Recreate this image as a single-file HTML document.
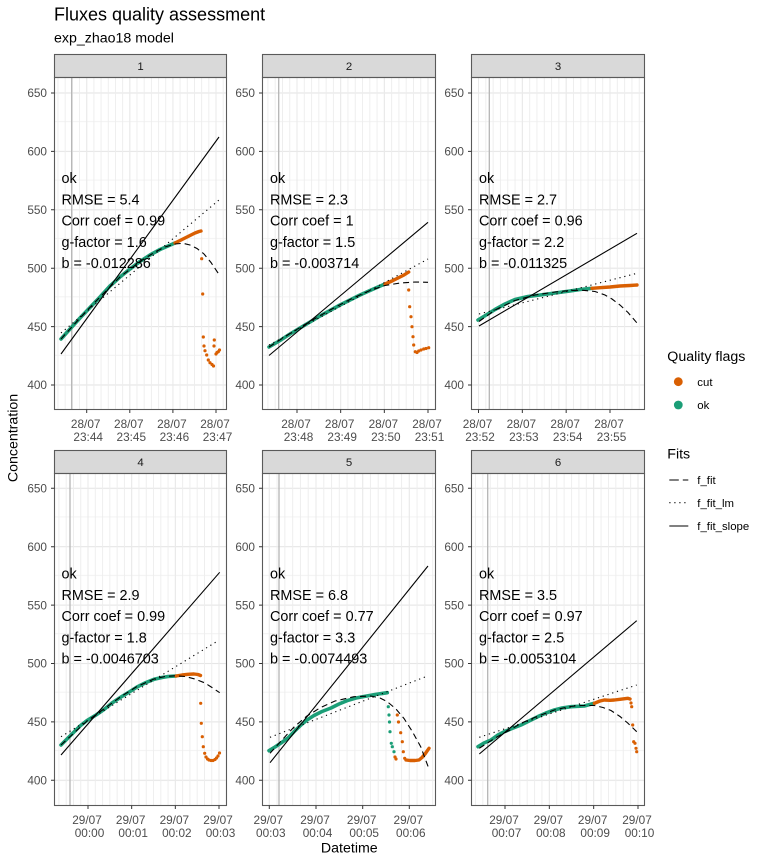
<!DOCTYPE html>
<html><head><meta charset="utf-8"><style>
html,body{margin:0;padding:0;background:#fff;}
svg{display:block;font-family:"Liberation Sans",Arial,sans-serif;}
.yt{font-size:11.8px;fill:#4d4d4d;text-anchor:end;}
.xt{font-size:11.8px;fill:#4d4d4d;text-anchor:middle;}
.st{font-size:11.4px;fill:#1a1a1a;text-anchor:middle;}
.an{font-size:14.4px;fill:#000;}
.g{fill:none;stroke:#1B9E77;stroke-width:3.6;stroke-linecap:round;stroke-linejoin:round;}
.o{fill:none;stroke:#D95F02;stroke-width:3.4;stroke-linecap:round;stroke-linejoin:round;}
.od{fill:#D95F02;}
.gd{fill:#1B9E77;}
.sl{fill:none;stroke:#000;stroke-width:1.1;}
.dt{fill:none;stroke:#000;stroke-width:1.1;stroke-dasharray:1.2,3.8;}
.ds{fill:none;stroke:#000;stroke-width:1.1;stroke-dasharray:6,4;}
.bd{fill:none;stroke:#5a5a5a;stroke-width:1.1;}
.tk{stroke:#333;stroke-width:1;}
.mj{stroke:#e9e9e9;stroke-width:1;}
.vl{stroke:#b5b5b5;stroke-width:1.3;}
</style></head><body>
<svg width="768" height="864" viewBox="0 0 768 864" xmlns="http://www.w3.org/2000/svg">
<defs>
<pattern id="h1" patternUnits="userSpaceOnUse" x="0" y="92.45" width="10" height="58.4"><rect x="0" y="0" width="10" height="1.1" fill="#e5e5e5"/><rect x="0" y="28.8" width="10" height="0.8" fill="#efefef"/></pattern>
<pattern id="h2" patternUnits="userSpaceOnUse" x="0" y="487.75" width="10" height="58.4"><rect x="0" y="0" width="10" height="1.1" fill="#e5e5e5"/><rect x="0" y="28.8" width="10" height="0.8" fill="#efefef"/></pattern>
<pattern id="v1" patternUnits="userSpaceOnUse" x="86.25" y="0" width="7.1833" height="864"><rect x="0" y="0" width="0.9" height="864" fill="#ededed"/></pattern>
<pattern id="v2" patternUnits="userSpaceOnUse" x="296.55" y="0" width="7.2778" height="864"><rect x="0" y="0" width="0.9" height="864" fill="#ededed"/></pattern>
<pattern id="v3" patternUnits="userSpaceOnUse" x="478.05" y="0" width="7.3056" height="864"><rect x="0" y="0" width="0.9" height="864" fill="#ededed"/></pattern>
<pattern id="v4" patternUnits="userSpaceOnUse" x="87.55" y="0" width="7.2778" height="864"><rect x="0" y="0" width="0.9" height="864" fill="#ededed"/></pattern>
<pattern id="v5" patternUnits="userSpaceOnUse" x="268.85" y="0" width="7.7778" height="864"><rect x="0" y="0" width="0.9" height="864" fill="#ededed"/></pattern>
<pattern id="v6" patternUnits="userSpaceOnUse" x="504.55" y="0" width="7.3889" height="864"><rect x="0" y="0" width="0.9" height="864" fill="#ededed"/></pattern>
<clipPath id="c1"><rect x="54.5" y="77.5" width="172" height="332"/></clipPath>
<clipPath id="c2"><rect x="262.5" y="77.5" width="173" height="332"/></clipPath>
<clipPath id="c3"><rect x="471.5" y="77.5" width="173" height="332"/></clipPath>
<clipPath id="c4"><rect x="54.5" y="473.5" width="172" height="332"/></clipPath>
<clipPath id="c5"><rect x="262.5" y="473.5" width="173" height="332"/></clipPath>
<clipPath id="c6"><rect x="471.5" y="473.5" width="173" height="332"/></clipPath>
</defs>
<rect width="768" height="864" fill="#fff"/>

<text x="54" y="20.6" font-size="18" fill="#000">Fluxes quality assessment</text>
<text x="54" y="42.5" font-size="14.2" fill="#000">exp_zhao18 model</text>

<g>
<rect x="54.5" y="77.5" width="172" height="332" fill="url(#h1)"/>
<rect x="262.5" y="77.5" width="173" height="332" fill="url(#h1)"/>
<rect x="471.5" y="77.5" width="173" height="332" fill="url(#h1)"/>
<rect x="54.5" y="473.5" width="172" height="332" fill="url(#h2)"/>
<rect x="262.5" y="473.5" width="173" height="332" fill="url(#h2)"/>
<rect x="471.5" y="473.5" width="173" height="332" fill="url(#h2)"/>
<rect x="54.5" y="77.5" width="172" height="332" fill="url(#v1)"/>
<rect x="262.5" y="77.5" width="173" height="332" fill="url(#v2)"/>
<rect x="471.5" y="77.5" width="173" height="332" fill="url(#v3)"/>
<rect x="54.5" y="473.5" width="172" height="332" fill="url(#v4)"/>
<rect x="262.5" y="473.5" width="173" height="332" fill="url(#v5)"/>
<rect x="471.5" y="473.5" width="173" height="332" fill="url(#v6)"/>
</g>
<g class="mj">
<line x1="86.7" y1="77.5" x2="86.7" y2="409.5"/><line x1="129.8" y1="77.5" x2="129.8" y2="409.5"/><line x1="172.9" y1="77.5" x2="172.9" y2="409.5"/><line x1="216" y1="77.5" x2="216" y2="409.5"/>
<line x1="297" y1="77.5" x2="297" y2="409.5"/><line x1="340.67" y1="77.5" x2="340.67" y2="409.5"/><line x1="384.33" y1="77.5" x2="384.33" y2="409.5"/><line x1="428" y1="77.5" x2="428" y2="409.5"/>
<line x1="478.5" y1="77.5" x2="478.5" y2="409.5"/><line x1="522.33" y1="77.5" x2="522.33" y2="409.5"/><line x1="566.17" y1="77.5" x2="566.17" y2="409.5"/><line x1="610" y1="77.5" x2="610" y2="409.5"/>
<line x1="88" y1="473.5" x2="88" y2="805.5"/><line x1="131.67" y1="473.5" x2="131.67" y2="805.5"/><line x1="175.33" y1="473.5" x2="175.33" y2="805.5"/><line x1="219" y1="473.5" x2="219" y2="805.5"/>
<line x1="269.3" y1="473.5" x2="269.3" y2="805.5"/><line x1="316" y1="473.5" x2="316" y2="805.5"/><line x1="362.7" y1="473.5" x2="362.7" y2="805.5"/><line x1="409.3" y1="473.5" x2="409.3" y2="805.5"/>
<line x1="505" y1="473.5" x2="505" y2="805.5"/><line x1="549.33" y1="473.5" x2="549.33" y2="805.5"/><line x1="593.67" y1="473.5" x2="593.67" y2="805.5"/><line x1="638" y1="473.5" x2="638" y2="805.5"/>
</g>
<g class="vl">
<line x1="71.7" y1="77.5" x2="71.7" y2="409.5"/>
<line x1="278.7" y1="77.5" x2="278.7" y2="409.5"/>
<line x1="489.3" y1="77.5" x2="489.3" y2="409.5"/>
<line x1="70" y1="473.5" x2="70" y2="805.5"/>
<line x1="279" y1="473.5" x2="279" y2="805.5"/>
<line x1="487.7" y1="473.5" x2="487.7" y2="805.5"/>
</g>

<g clip-path="url(#c1)">
<polyline class="g" points="61,339 70,329 80,318 90,307.5 100,297 110,286 120,277 130,269 140,261.5 150,255 160,249.5 168,246 175,243"/>
<polyline class="o" points="175,243 180,240.5 185,238 190,235.5 195,233 199,231.5 201,231"/>
<g class="od">
<circle cx="201.7" cy="258.7" r="1.6"/><circle cx="202.7" cy="294" r="1.6"/><circle cx="203.3" cy="337" r="1.6"/><circle cx="204" cy="346" r="1.6"/><circle cx="205" cy="350.7" r="1.6"/><circle cx="206.7" cy="355" r="1.6"/><circle cx="208.3" cy="360" r="1.6"/><circle cx="210" cy="362.7" r="1.6"/><circle cx="212" cy="364.5" r="1.6"/><circle cx="213.5" cy="366" r="1.6"/><circle cx="214.3" cy="340" r="1.6"/><circle cx="214" cy="346" r="1.6"/><circle cx="216" cy="354" r="1.6"/><circle cx="218.3" cy="351.7" r="1.6"/><circle cx="219.5" cy="350" r="1.6"/><circle cx="217" cy="352.5" r="1.6"/>
</g>
<line class="sl" x1="61" y1="354" x2="219" y2="137"/>
<line class="dt" x1="61" y1="333" x2="219" y2="200"/>
<polyline class="ds" points="61,339 80,318 100,297 120,277 140,261.5 155,252 165,247 175,244 183,243.3 190,245 197,248.5 204,254 211,262.5 219,274.5"/>
</g>

<g clip-path="url(#c2)">
<polyline class="g" points="269,347 280,340.5 290,334 300,328 310,322 320,316 330,310.5 340,305 350,300 360,295 370,290.5 378,287 385,284"/>
<polyline class="o" points="385,284 392,281 398,278 404,275 408.7,272"/>
<g class="od">
<circle cx="408.7" cy="290" r="1.6"/><circle cx="409.7" cy="306.7" r="1.6"/><circle cx="411" cy="316.7" r="1.6"/><circle cx="412" cy="326.7" r="1.6"/><circle cx="413" cy="336.7" r="1.6"/><circle cx="413.7" cy="345" r="1.6"/><circle cx="415.3" cy="351.7" r="1.6"/><circle cx="417" cy="352.5" r="1.6"/><circle cx="418.7" cy="351" r="1.6"/><circle cx="421" cy="350" r="1.6"/><circle cx="423.7" cy="349" r="1.6"/><circle cx="426" cy="348.5" r="1.6"/><circle cx="428.7" cy="347.7" r="1.6"/>
</g>
<line class="sl" x1="269" y1="355.5" x2="428" y2="222.3"/>
<line class="dt" x1="269" y1="345" x2="428" y2="259"/>
<polyline class="ds" points="269,347 290,333.5 310,321.5 330,310 350,299.5 370,290.5 385,285.5 400,283 415,282 428,282.3"/>
</g>

<g clip-path="url(#c3)">
<polyline class="g" points="478,320 487,314.5 495,309.5 505,304 515,299.5 528,296.5 540,295 555,293 570,291 580,289.5 592,288.3"/>
<polyline class="o" points="592,288.3 600,287.7 610,287 620,286 630,285.5 637,285"/>
<line class="sl" x1="479" y1="326" x2="637" y2="233.3"/>
<line class="dt" x1="479" y1="314" x2="637" y2="273.3"/>
<polyline class="ds" points="479,321.5 495,310 515,300.5 535,295 555,292 570,290.5 583,290.3 595,291.5 605,295 612,299 620,305 628,312.5 637,323"/>
</g>

<g clip-path="url(#c4)">
<polyline class="g" points="61,745 70,736 80,726 87,720.5 96,715 104,709.5 112,703 121,697 130,691.5 137,687 146,682.5 154,679.3 162,677.5 168,676.5 176,676"/>
<polyline class="o" points="176,676 182,675 188,674.3 194,674 198,674.5 200.5,675.5"/>
<g class="od">
<circle cx="200.7" cy="703.3" r="1.6"/><circle cx="201.3" cy="723.3" r="1.6"/><circle cx="202.3" cy="736.7" r="1.6"/><circle cx="203.3" cy="746.7" r="1.6"/><circle cx="204.7" cy="753.3" r="1.6"/><circle cx="206" cy="757" r="1.6"/><circle cx="207.5" cy="759" r="1.6"/><circle cx="209" cy="760" r="1.6"/><circle cx="211" cy="760.5" r="1.6"/><circle cx="213" cy="760.5" r="1.6"/><circle cx="215" cy="759.5" r="1.6"/><circle cx="216.5" cy="758" r="1.6"/><circle cx="218" cy="756" r="1.6"/><circle cx="219.5" cy="753" r="1.6"/>
</g>
<line class="sl" x1="61" y1="755" x2="219.7" y2="572.3"/>
<line class="dt" x1="61" y1="736.7" x2="218.5" y2="640.5"/>
<polyline class="ds" points="61,745 87,721 104,709 121,696.5 137,686.5 154,679 165,676.5 175,675.8 185,676.5 195,679 205,683 212,687.5 219.7,692.7"/>
</g>

<g clip-path="url(#c5)">
<polyline class="g" points="269,750.7 275,747 281,743 288,738 294,731.7 301,725 307,720 314,715.5 322,711.5 331,708 339,704 347,700.7 356,698 364,696.5 375,694.5 387.3,692.7"/>
<g class="gd">
<circle cx="388.3" cy="706.7" r="1.6"/><circle cx="389" cy="715" r="1.6"/><circle cx="389.5" cy="722" r="1.6"/><circle cx="390" cy="731.7" r="1.6"/><circle cx="391.3" cy="743.3" r="1.6"/><circle cx="392.3" cy="746.7" r="1.6"/><circle cx="394" cy="751.7" r="1.6"/>
</g>
<g class="od">
<circle cx="397.3" cy="715" r="1.6"/><circle cx="398.5" cy="722" r="1.6"/><circle cx="400.7" cy="732.7" r="1.6"/><circle cx="402.3" cy="741.7" r="1.6"/><circle cx="403.3" cy="751.7" r="1.6"/><circle cx="404.7" cy="758.3" r="1.6"/><circle cx="395" cy="757" r="1.6"/><circle cx="396" cy="759" r="1.6"/>
</g>
<polyline class="o" points="406,760 410,760.5 415,760.5 419,760 422,757.5 425,754 429,748.3"/>
<line class="sl" x1="270" y1="762.7" x2="428" y2="566"/>
<line class="dt" x1="270" y1="737.3" x2="425.7" y2="676.7"/>
<polyline class="ds" points="270,753.3 282,740 294,727 307,716 320.7,707.5 335,701 354,696.7 370.7,696 380,698 387.3,701.7 396,709 404,718.5 412,731 420.7,746.7 429,769"/>
</g>

<g clip-path="url(#c6)">
<polyline class="g" points="478,746.7 484,743 491,740 498,735 504.3,731.7 512,728.5 521,725 530,720.5 537.7,716.7 546,713 554.3,710 562,708 571,706.7 584.3,706 594.3,703.3"/>
<polyline class="o" points="594.3,703.3 600,701 604.3,700 610,700.3 614.3,700 620,699.3 627.7,698.3 630,699"/>
<g class="od">
<circle cx="631" cy="703" r="1.6"/><circle cx="631.7" cy="706.7" r="1.6"/><circle cx="632.7" cy="725" r="1.6"/><circle cx="633.7" cy="741.7" r="1.6"/><circle cx="635" cy="743.3" r="1.6"/><circle cx="636" cy="748.3" r="1.6"/><circle cx="636.7" cy="751.7" r="1.6"/>
</g>
<line class="sl" x1="479.3" y1="754" x2="636.7" y2="620.7"/>
<line class="dt" x1="479.3" y1="737.3" x2="636.7" y2="685"/>
<polyline class="ds" points="479.3,748.3 495,738 510,730 521,723.3 537,716.5 554.3,710 570,706.5 581,705.5 594.3,705.5 603,707.5 611,710.5 620,716.5 627.7,723 636.7,731.7"/>
</g>

<g class="an">
<text x="61.5" y="183">ok</text><text x="61.5" y="204.3">RMSE = 5.4</text><text x="61.5" y="225.6">Corr coef = 0.99</text><text x="61.5" y="246.9">g-factor = 1.6</text><text x="61.5" y="268.2">b = -0.012286</text>
<text x="270" y="183">ok</text><text x="270" y="204.3">RMSE = 2.3</text><text x="270" y="225.6">Corr coef = 1</text><text x="270" y="246.9">g-factor = 1.5</text><text x="270" y="268.2">b = -0.003714</text>
<text x="479" y="183">ok</text><text x="479" y="204.3">RMSE = 2.7</text><text x="479" y="225.6">Corr coef = 0.96</text><text x="479" y="246.9">g-factor = 2.2</text><text x="479" y="268.2">b = -0.011325</text>
<text x="61.5" y="578.5">ok</text><text x="61.5" y="599.8">RMSE = 2.9</text><text x="61.5" y="621.1">Corr coef = 0.99</text><text x="61.5" y="642.4">g-factor = 1.8</text><text x="61.5" y="663.7">b = -0.0046703</text>
<text x="270" y="578.5">ok</text><text x="270" y="599.8">RMSE = 6.8</text><text x="270" y="621.1">Corr coef = 0.77</text><text x="270" y="642.4">g-factor = 3.3</text><text x="270" y="663.7">b = -0.0074493</text>
<text x="479" y="578.5">ok</text><text x="479" y="599.8">RMSE = 3.5</text><text x="479" y="621.1">Corr coef = 0.97</text><text x="479" y="642.4">g-factor = 2.5</text><text x="479" y="663.7">b = -0.0053104</text>
</g>

<g fill="#d9d9d9" stroke="#5a5a5a" stroke-width="1.1">
<rect x="54.5" y="54.5" width="172" height="23"/>
<rect x="262.5" y="54.5" width="173" height="23"/>
<rect x="471.5" y="54.5" width="173" height="23"/>
<rect x="54.5" y="450.5" width="172" height="23"/>
<rect x="262.5" y="450.5" width="173" height="23"/>
<rect x="471.5" y="450.5" width="173" height="23"/>
</g>
<g class="st">
<text x="140.5" y="70">1</text><text x="349" y="70">2</text><text x="558" y="70">3</text>
<text x="140.5" y="466">4</text><text x="349" y="466">5</text><text x="558" y="466">6</text>
</g>
<g class="bd">
<rect x="54.5" y="77.5" width="172" height="332"/>
<rect x="262.5" y="77.5" width="173" height="332"/>
<rect x="471.5" y="77.5" width="173" height="332"/>
<rect x="54.5" y="473.5" width="172" height="332"/>
<rect x="262.5" y="473.5" width="173" height="332"/>
<rect x="471.5" y="473.5" width="173" height="332"/>
</g>

<g class="tk">
<path d="M51,93H54.5M51,151.4H54.5M51,209.8H54.5M51,268.2H54.5M51,326.6H54.5M51,385H54.5 M259,93H262.5M259,151.4H262.5M259,209.8H262.5M259,268.2H262.5M259,326.6H262.5M259,385H262.5 M468,93H471.5M468,151.4H471.5M468,209.8H471.5M468,268.2H471.5M468,326.6H471.5M468,385H471.5"/>
<path d="M51,488.3H54.5M51,546.7H54.5M51,605.1H54.5M51,663.5H54.5M51,721.9H54.5M51,780.3H54.5 M259,488.3H262.5M259,546.7H262.5M259,605.1H262.5M259,663.5H262.5M259,721.9H262.5M259,780.3H262.5 M468,488.3H471.5M468,546.7H471.5M468,605.1H471.5M468,663.5H471.5M468,721.9H471.5M468,780.3H471.5"/>
<path d="M86.7,409.5V413M129.8,409.5V413M172.9,409.5V413M216,409.5V413 M297,409.5V413M340.67,409.5V413M384.33,409.5V413M428,409.5V413 M478.5,409.5V413M522.33,409.5V413M566.17,409.5V413M610,409.5V413"/>
<path d="M88,805.5V809M131.67,805.5V809M175.33,805.5V809M219,805.5V809 M269.3,805.5V809M316,805.5V809M362.7,805.5V809M409.3,805.5V809 M505,805.5V809M549.33,805.5V809M593.67,805.5V809M638,805.5V809"/>
</g>
<g class="yt">
<text x="47" y="97.2">650</text><text x="47" y="155.6">600</text><text x="47" y="214">550</text><text x="47" y="272.4">500</text><text x="47" y="330.8">450</text><text x="47" y="389.2">400</text>
<text x="255" y="97.2">650</text><text x="255" y="155.6">600</text><text x="255" y="214">550</text><text x="255" y="272.4">500</text><text x="255" y="330.8">450</text><text x="255" y="389.2">400</text>
<text x="464" y="97.2">650</text><text x="464" y="155.6">600</text><text x="464" y="214">550</text><text x="464" y="272.4">500</text><text x="464" y="330.8">450</text><text x="464" y="389.2">400</text>
<text x="47" y="492.5">650</text><text x="47" y="550.9">600</text><text x="47" y="609.3">550</text><text x="47" y="667.7">500</text><text x="47" y="726.1">450</text><text x="47" y="784.5">400</text>
<text x="255" y="492.5">650</text><text x="255" y="550.9">600</text><text x="255" y="609.3">550</text><text x="255" y="667.7">500</text><text x="255" y="726.1">450</text><text x="255" y="784.5">400</text>
<text x="464" y="492.5">650</text><text x="464" y="550.9">600</text><text x="464" y="609.3">550</text><text x="464" y="667.7">500</text><text x="464" y="726.1">450</text><text x="464" y="784.5">400</text>
</g>
<g class="xt">
<text x="85.7" y="428">28/07</text><text x="88.2" y="441">23:44</text>
<text x="128.8" y="428">28/07</text><text x="131.3" y="441">23:45</text>
<text x="171.9" y="428">28/07</text><text x="174.4" y="441">23:46</text>
<text x="215" y="428">28/07</text><text x="217.5" y="441">23:47</text>
<text x="296" y="428">28/07</text><text x="298.5" y="441">23:48</text>
<text x="339.67" y="428">28/07</text><text x="342.17" y="441">23:49</text>
<text x="383.33" y="428">28/07</text><text x="385.83" y="441">23:50</text>
<text x="427" y="428">28/07</text><text x="429.5" y="441">23:51</text>
<text x="477.5" y="428">28/07</text><text x="480" y="441">23:52</text>
<text x="521.33" y="428">28/07</text><text x="523.83" y="441">23:53</text>
<text x="565.17" y="428">28/07</text><text x="567.67" y="441">23:54</text>
<text x="609" y="428">28/07</text><text x="611.5" y="441">23:55</text>
<text x="87" y="824">29/07</text><text x="89.5" y="837">00:00</text>
<text x="130.67" y="824">29/07</text><text x="133.17" y="837">00:01</text>
<text x="174.33" y="824">29/07</text><text x="176.83" y="837">00:02</text>
<text x="218" y="824">29/07</text><text x="220.5" y="837">00:03</text>
<text x="268.3" y="824">29/07</text><text x="270.8" y="837">00:03</text>
<text x="315" y="824">29/07</text><text x="317.5" y="837">00:04</text>
<text x="361.7" y="824">29/07</text><text x="364.2" y="837">00:05</text>
<text x="408.3" y="824">29/07</text><text x="410.8" y="837">00:06</text>
<text x="504" y="824">29/07</text><text x="506.5" y="837">00:07</text>
<text x="548.33" y="824">29/07</text><text x="550.83" y="837">00:08</text>
<text x="592.67" y="824">29/07</text><text x="595.17" y="837">00:09</text>
<text x="637" y="824">29/07</text><text x="639.5" y="837">00:10</text>
</g>

<text x="349.3" y="852.5" font-size="14.2" text-anchor="middle" fill="#000">Datetime</text>
<text transform="translate(17.5,438) rotate(-90)" font-size="14.2" text-anchor="middle" fill="#000">Concentration</text>

<text x="667.3" y="361" font-size="14.2" fill="#000">Quality flags</text>
<circle cx="678.3" cy="381.7" r="4.4" fill="#D95F02"/>
<text x="697.3" y="385.8" font-size="11.4" fill="#000">cut</text>
<circle cx="678.3" cy="405" r="4.4" fill="#1B9E77"/>
<text x="697.3" y="409.1" font-size="11.4" fill="#000">ok</text>

<text x="667.3" y="458.5" font-size="14.2" fill="#000">Fits</text>
<line x1="669.3" y1="480" x2="688.3" y2="480" stroke="#000" stroke-width="1.1" stroke-dasharray="9.5,4"/>
<text x="697.3" y="484.1" font-size="11.4" fill="#000">f_fit</text>
<line x1="669.3" y1="502.7" x2="688.3" y2="502.7" stroke="#000" stroke-width="1.1" stroke-dasharray="1.2,3.8"/>
<text x="697.3" y="506.8" font-size="11.4" fill="#000">f_fit_lm</text>
<line x1="669.3" y1="526" x2="688.3" y2="526" stroke="#000" stroke-width="1.1"/>
<text x="697.3" y="530.1" font-size="11.4" fill="#000">f_fit_slope</text>
</svg>
</body></html>
